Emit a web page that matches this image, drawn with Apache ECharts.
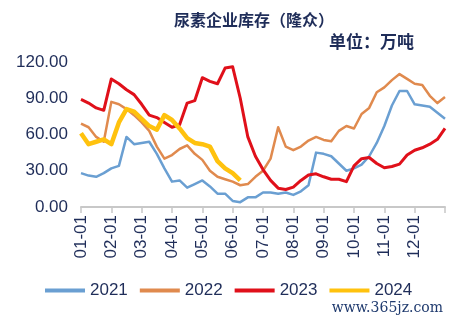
<!DOCTYPE html>
<html>
<head>
<meta charset="utf-8">
<script src="https://cdn.jsdelivr.net/npm/echarts@6/dist/echarts.min.js"></script>
<style>
  html, body { margin: 0; padding: 0; background: #ffffff; }
  #chart { width: 451px; height: 323px; }
</style>
</head>
<body>
<div id="chart"></div>
<script>
// Weekly slots: four per month plus the closing slot at year end
const weeks = [];
for (let m = 1; m <= 12; m++) {
  const mm = String(m).padStart(2, '0');
  ['01', '08', '15', '22'].forEach(d => weeks.push(mm + '-' + d));
}
weeks.push('12-31');

const yearNames = ['2021', '2022', '2023', '2024'];
const yTicks = [0, 30, 60, 90, 120];

// Urea enterprise inventory, 10k tonnes
const inv2021 = [28, 26, 25, 28, 32, 34, 58, 52, 53, 54, 44, 32, 21, 22, 16, 19, 22, 17, 11, 11,
  5, 4, 8, 8, 12, 12, 11, 12, 10, 13, 18, 45, 44, 42, 36, 30, 32, 35, 42, 53,
  67, 84, 96, 96, 85, 84, 83, 78, 73];
const inv2022 = [69, 66, 58, 54, 87, 85, 81, 76, 70, 63, 50, 40, 43, 48, 51, 44, 39, 30, 25, 23,
  21, 18, 19, 25, 30, 40, 66, 50, 47, 50, 55, 58, 55.5, 54.5, 63, 67, 65, 77, 82, 95,
  99, 105, 110, 106, 102, 101, 92, 86, 91];
const inv2023 = [89, 86, 82, 80, 106, 102, 97, 93, 85, 76, 74, 70, 66, 68, 86, 88, 107, 104, 102, 115,
  116, 90, 58, 42, 31, 22, 15.6, 14.5, 16.5, 22, 26.5, 27.5, 25, 23, 23, 21, 34, 40, 41, 36,
  32.5, 33.5, 35.5, 43, 47, 49, 52, 56, 65];
const inv2024 = [61, 52, 54, 56, 52, 70, 81, 79, 73, 67, 64, 76, 72, 65, 57, 53, 52, 50, 38, 32,
  28, 22];

const navy = '#1f2d59';
const colors = ['#6a9fd2', '#e08a4e', '#e0101a', '#ffc20e'];
const widths = [2.5, 2.5, 3, 4.5];
const seriesData = [inv2021, inv2022, inv2023, inv2024];

const chart = echarts.init(document.getElementById('chart'), null, { renderer: 'canvas' });
chart.setOption({
  animation: false,
  backgroundColor: '#ffffff',
  textStyle: { fontFamily: 'Liberation Sans, Arial, sans-serif' },
  grid: { left: 81, right: 6, top: 62, bottom: 116, containLabel: false },
  graphic: [
    {
      type: 'text', x: 254, y: 20,
      style: {
        text: '尿素企业库存（隆众）', fill: navy, align: 'center', verticalAlign: 'middle',
        font: 'bold 16px "Noto Sans CJK SC", sans-serif'
      }
    },
    {
      type: 'text', x: 414, y: 42,
      style: {
        text: '单位：万吨', fill: navy, align: 'right', verticalAlign: 'middle',
        font: 'bold 17px "Noto Sans CJK SC", sans-serif'
      }
    },
    {
      type: 'text', x: 443, y: 308,
      style: {
        text: 'www.365jz.com', fill: '#1f3a6e', align: 'right', verticalAlign: 'middle',
        font: '14px "DejaVu Serif", serif'
      }
    }
  ],
  legend: {
    data: yearNames.map((n, i) => ({ name: n, icon: 'rect', itemStyle: { color: colors[i] } })),
    left: 40, top: 277,
    itemWidth: 40, itemHeight: 4, itemGap: 12,
    textStyle: { color: navy, fontSize: 17, fontFamily: 'Liberation Sans, Arial, sans-serif' }
  },
  xAxis: {
    type: 'category',
    data: weeks,
    boundaryGap: false,
    axisLine: { lineStyle: { color: '#c8c8c8', width: 2 } },
    axisTick: {
      show: true, length: 6,
      interval: (idx) => idx % 4 === 0,
      lineStyle: { color: '#c8c8c8', width: 1.5 }
    },
    axisLabel: {
      rotate: 90,
      interval: (idx) => idx % 4 === 0 && idx < 48,
      color: navy, fontSize: 17, margin: 8,
      fontFamily: 'Liberation Sans, Arial, sans-serif'
    },
    splitLine: { show: false }
  },
  yAxis: {
    type: 'value',
    min: yTicks[0], max: yTicks[yTicks.length - 1], interval: 30,
    axisLine: { show: false },
    axisTick: { show: false },
    splitLine: { show: false },
    axisLabel: {
      color: navy, fontSize: 17, margin: 13,
      formatter: v => v.toFixed(2),
      fontFamily: 'Liberation Sans, Arial, sans-serif'
    }
  },
  series: yearNames.map((n, i) => ({
    name: n,
    type: 'line',
    data: seriesData[i],
    showSymbol: false,
    symbol: 'none',
    smooth: false,
    lineStyle: { color: colors[i], width: widths[i], join: 'round' },
    itemStyle: { color: colors[i] },
    z: 2 + i
  }))
});
</script>
</body>
</html>
